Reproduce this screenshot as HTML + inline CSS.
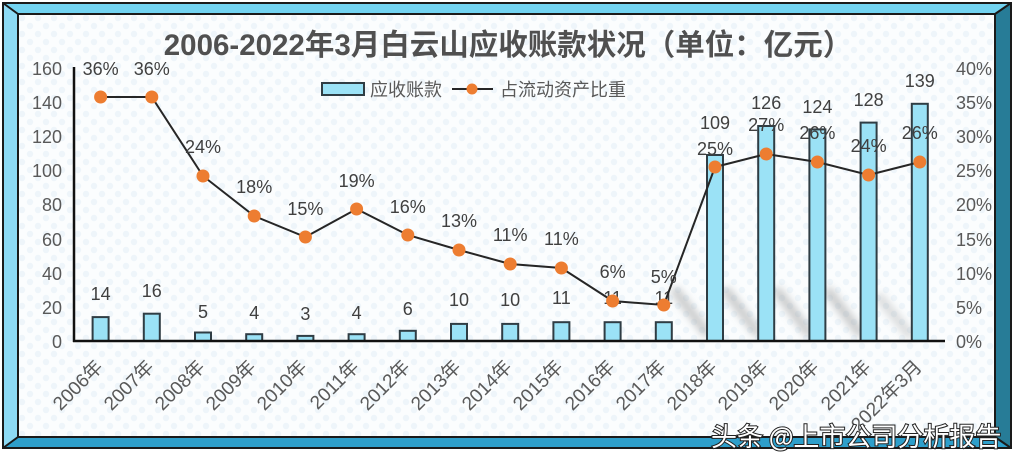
<!DOCTYPE html>
<html><head><meta charset="utf-8"><style>
html,body{margin:0;padding:0;background:#fff;}
svg{display:block;}
text{font-family:"Liberation Sans","Noto Sans CJK SC",sans-serif;}
</style></head><body>
<svg width="1015" height="465" viewBox="0 0 1015 465" xmlns="http://www.w3.org/2000/svg">
<defs>
<pattern id="dots" x="18" y="14" width="16" height="16" patternUnits="userSpaceOnUse">
<rect width="16" height="16" fill="#fbfdfe"/>
<circle cx="4" cy="4" r="3.2" fill="#eef5fa"/>
<circle cx="12" cy="12" r="3.2" fill="#eef5fa"/>
</pattern>
<filter id="blur" x="-50%" y="-50%" width="200%" height="200%"><feGaussianBlur stdDeviation="4"/></filter>
</defs>
<rect width="1015" height="465" fill="#ffffff"/>
<!-- frame -->
<rect x="18" y="14" width="977" height="423" fill="url(#dots)"/>
<polygon points="3,3 1011,3 995,14 18,14" fill="#72d3f1"/>
<polygon points="3,3 18,14 18,437 3,448" fill="#8ddaf4"/>
<polygon points="3,448 18,437 995,437 1011,448" fill="#2e9fcb"/>
<polygon points="1011,3 995,14 995,437 1011,448" fill="#277c97"/>
<g stroke="#1a1a1a" stroke-width="2" fill="none">
<rect x="3" y="3" width="1008" height="445"/>
<rect x="18" y="14" width="977" height="423"/>
<line x1="3" y1="3" x2="18" y2="14"/>
<line x1="1011" y1="3" x2="995" y2="14"/>
<line x1="3" y1="448" x2="18" y2="437"/>
<line x1="1011" y1="448" x2="995" y2="437"/>
</g>

<!-- title -->
<text x="508" y="55" text-anchor="middle" font-size="29.5" font-weight="bold" fill="#505050" style="font-family:'Liberation Sans','Noto Sans CJK SC',sans-serif">2006-2022年3月白云山应收账款状况（单位：亿元）</text>

<!-- legend -->
<rect x="322" y="83" width="42" height="12" fill="#9be2f6" stroke="#2f3d44" stroke-width="2"/>
<text x="370" y="96" font-size="18" fill="#595959">应收账款</text>
<line x1="452" y1="89" x2="493" y2="89" stroke="#262626" stroke-width="2"/>
<circle cx="472" cy="89" r="5.5" fill="#ed7d31"/>
<text x="500" y="96" font-size="18" fill="#595959">占流动资产比重</text>

<!-- left axis labels -->
<g font-size="18" fill="#595959" text-anchor="end">
<text x="62" y="75">160</text>
<text x="62" y="109">140</text>
<text x="62" y="143">120</text>
<text x="62" y="177">100</text>
<text x="62" y="211">80</text>
<text x="62" y="246">60</text>
<text x="62" y="280">40</text>
<text x="62" y="314">20</text>
<text x="62" y="348">0</text>
</g>
<!-- right axis labels -->
<g font-size="18" fill="#595959" text-anchor="start">
<text x="956" y="75">40%</text>
<text x="956" y="109">35%</text>
<text x="956" y="143">30%</text>
<text x="956" y="177">25%</text>
<text x="956" y="211">20%</text>
<text x="956" y="246">15%</text>
<text x="956" y="280">10%</text>
<text x="956" y="314">5%</text>
<text x="956" y="348">0%</text>
</g>

<!-- shadows -->
<g stroke="#8a8a8a" stroke-width="10" stroke-opacity="0.42" filter="url(#blur)" stroke-linecap="round">
<line x1="676" y1="292" x2="706" y2="332"/>
<line x1="727" y1="292" x2="757" y2="332"/>
<line x1="778" y1="292" x2="808" y2="332"/>
<line x1="829" y1="292" x2="859" y2="332"/>
<line x1="880" y1="298" x2="909" y2="334" stroke-opacity="0.28"/>
</g>

<!-- bars -->
<g fill="#9be2f6" stroke="#2f3d44" stroke-width="2">
<rect x="92.6" y="317.1" width="16" height="23.9"/>
<rect x="143.8" y="313.7" width="16" height="27.3"/>
<rect x="195" y="332.5" width="16" height="8.5"/>
<rect x="246.2" y="334.2" width="16" height="6.8"/>
<rect x="297.4" y="335.9" width="16" height="5.1"/>
<rect x="348.6" y="334.2" width="16" height="6.8"/>
<rect x="399.8" y="330.8" width="16" height="10.2"/>
<rect x="451" y="323.9" width="16" height="17.1"/>
<rect x="502.2" y="323.9" width="16" height="17.1"/>
<rect x="553.4" y="322.2" width="16" height="18.8"/>
<rect x="604.6" y="322.2" width="16" height="18.8"/>
<rect x="655.8" y="322.2" width="16" height="18.8"/>
<rect x="707" y="155" width="16" height="186"/>
<rect x="758.2" y="126" width="16" height="215"/>
<rect x="809.4" y="129.4" width="16" height="211.6"/>
<rect x="860.6" y="122.6" width="16" height="218.4"/>
<rect x="911.8" y="103.8" width="16" height="237.2"/>
</g>

<!-- axes -->
<line x1="74" y1="67" x2="74" y2="342" stroke="#111" stroke-width="2.5"/>
<line x1="73" y1="341" x2="945" y2="341" stroke="#111" stroke-width="2.5"/>

<!-- bar value labels -->
<g font-size="18" fill="#404040" text-anchor="middle">
<text x="100.6" y="300">14</text>
<text x="151.8" y="297">16</text>
<text x="203" y="318">5</text>
<text x="254.2" y="319">4</text>
<text x="305.4" y="320">3</text>
<text x="356.6" y="319">4</text>
<text x="407.8" y="315">6</text>
<text x="459" y="306">10</text>
<text x="510.2" y="306">10</text>
<text x="561.4" y="304">11</text>
<text x="612.6" y="304">11</text>
<text x="663.8" y="304">11</text>
<text x="715" y="129">109</text>
<text x="766.2" y="109">126</text>
<text x="817.4" y="113">124</text>
<text x="868.6" y="106">128</text>
<text x="919.8" y="87">139</text>
</g>

<!-- line -->
<polyline fill="none" stroke="#262626" stroke-width="2" points="100.6,97 151.8,97 203,176 254.2,216 305.4,237 356.6,209 407.8,235 459,250 510.2,264 561.4,268 612.6,301 663.8,305 715,167 766.2,154 817.4,162 868.6,175 919.8,162"/>
<g fill="#ed7d31">
<circle cx="100.6" cy="97" r="6.5"/>
<circle cx="151.8" cy="97" r="6.5"/>
<circle cx="203" cy="176" r="6.5"/>
<circle cx="254.2" cy="216" r="6.5"/>
<circle cx="305.4" cy="237" r="6.5"/>
<circle cx="356.6" cy="209" r="6.5"/>
<circle cx="407.8" cy="235" r="6.5"/>
<circle cx="459" cy="250" r="6.5"/>
<circle cx="510.2" cy="264" r="6.5"/>
<circle cx="561.4" cy="268" r="6.5"/>
<circle cx="612.6" cy="301" r="6.5"/>
<circle cx="663.8" cy="305" r="6.5"/>
<circle cx="715" cy="167" r="6.5"/>
<circle cx="766.2" cy="154" r="6.5"/>
<circle cx="817.4" cy="162" r="6.5"/>
<circle cx="868.6" cy="175" r="6.5"/>
<circle cx="919.8" cy="162" r="6.5"/>
</g>

<!-- percent labels -->
<g font-size="18" fill="#404040" text-anchor="middle">
<text x="100.6" y="75">36%</text>
<text x="151.8" y="75">36%</text>
<text x="203" y="153">24%</text>
<text x="254.2" y="193">18%</text>
<text x="305.4" y="215">15%</text>
<text x="356.6" y="187">19%</text>
<text x="407.8" y="213">16%</text>
<text x="459" y="227">13%</text>
<text x="510.2" y="241">11%</text>
<text x="561.4" y="245">11%</text>
<text x="612.6" y="278">6%</text>
<text x="663.8" y="283">5%</text>
<text x="715" y="155">25%</text>
<text x="766.2" y="131">27%</text>
<text x="817.4" y="139">26%</text>
<text x="868.6" y="152">24%</text>
<text x="919.8" y="139">26%</text>
</g>

<!-- x labels -->
<g font-size="19" fill="#595959" text-anchor="end">
<text transform="translate(104,368) rotate(-45)">2006年</text>
<text transform="translate(155,368) rotate(-45)">2007年</text>
<text transform="translate(206,368) rotate(-45)">2008年</text>
<text transform="translate(257,368) rotate(-45)">2009年</text>
<text transform="translate(308,368) rotate(-45)">2010年</text>
<text transform="translate(360,368) rotate(-45)">2011年</text>
<text transform="translate(411,368) rotate(-45)">2012年</text>
<text transform="translate(462,368) rotate(-45)">2013年</text>
<text transform="translate(513,368) rotate(-45)">2014年</text>
<text transform="translate(564,368) rotate(-45)">2015年</text>
<text transform="translate(616,368) rotate(-45)">2016年</text>
<text transform="translate(667,368) rotate(-45)">2017年</text>
<text transform="translate(718,368) rotate(-45)">2018年</text>
<text transform="translate(769,368) rotate(-45)">2019年</text>
<text transform="translate(820,368) rotate(-45)">2020年</text>
<text transform="translate(872,368) rotate(-45)">2021年</text>
<text transform="translate(923,368) rotate(-45)">2022年3月</text>
</g>

<!-- watermark -->
<text x="711" y="446" font-size="26" fill="#ffffff" stroke="#222" stroke-width="2" paint-order="stroke" style="font-family:'Noto Sans CJK SC','Liberation Sans',sans-serif">头条 @上市公司分析报告</text>
</svg>
</body></html>
